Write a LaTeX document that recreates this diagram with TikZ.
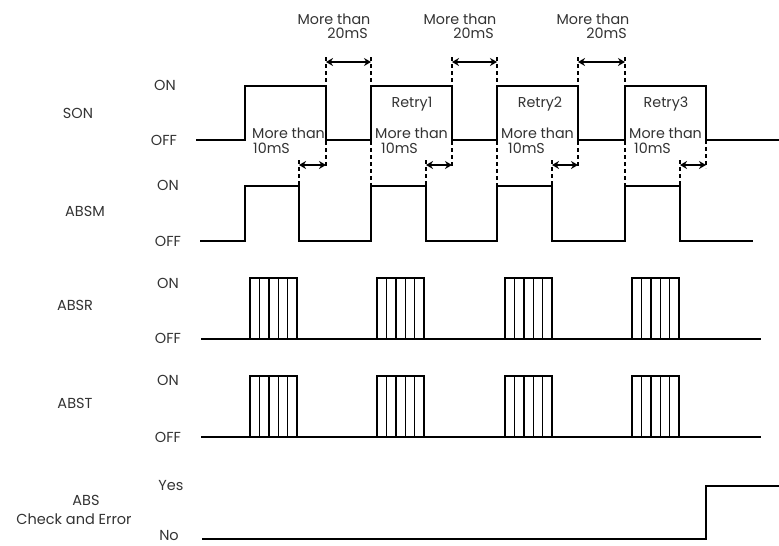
\documentclass[tikz,border=0pt]{standalone}
\usepackage{fontspec}
\setmainfont{Poppins}
\usetikzlibrary{arrows.meta}
\begin{document}
\begin{tikzpicture}[x=1pt,y=-1pt,
  sig/.style={line width=1.6pt, line join=miter},
  pulse/.style={line width=1.4pt},
  guide/.style={line width=1.5pt, dash pattern=on 4pt off 3pt},
  dim/.style={line width=1.5pt, {Stealth[length=7pt,width=8pt]}-{Stealth[length=7pt,width=8pt]}},
  lbl/.style={inner sep=0pt, font=\fontsize{14.5}{16}\selectfont, text=black!80},
  txt/.style={inner sep=0pt, font=\fontsize{14.3}{16}\selectfont, text=black!80}]
\useasboundingbox (0,0) rectangle (779,546);

% signal names
\node[lbl] (nSON)  at (78,113) {SON};
\node[lbl] (nABSM) at (85,211) {ABSM};
\node[lbl] (nABSR) at (75,305) {ABSR};
\node[lbl] (nABST) at (75,403) {ABST};
\node[lbl] (nABS1) at (86,500) {ABS};
\node[lbl] (nABS2) at (74,519) {Check and Error};

% level labels
\node[lbl] (l1) at (165,85)  {ON};
\node[lbl] (l2) at (164,140) {OFF};
\node[lbl] (l3) at (168,185) {ON};
\node[lbl] (l4) at (168,241) {OFF};
\node[lbl] (l5) at (168,283) {ON};
\node[lbl] (l6) at (168,338) {OFF};
\node[lbl] (l7) at (168,380) {ON};
\node[lbl] (l8) at (168,437) {OFF};
\node[lbl] (l9) at (171,486) {Yes};
\node[lbl] (l10) at (169,535) {No};

% SON
\draw[sig] (196,140) -- (245,140) -- (245,86) -- (326,86) -- (326,140) -- (371,140)
  -- (371,86) -- (452,86) -- (452,140) -- (497,140) -- (497,86) -- (578,86)
  -- (578,140) -- (625,140) -- (625,86) -- (706,86) -- (706,140) -- (779,140);

% ABSM
\draw[sig] (200,241) -- (245,241) -- (245,186) -- (299,186) -- (299,241) -- (371,241)
  -- (371,186) -- (426,186) -- (426,241) -- (497,241) -- (497,186) -- (552,186)
  -- (552,241) -- (625,241) -- (625,186) -- (680,186) -- (680,241) -- (753,241);

% guides and dimension arrows
\foreach \F/\R/\A in {326/371/299, 452/497/426, 578/625/552}{
  \draw[guide] (\F,57) -- (\F,168);
  \draw[guide] (\R,57) -- (\R,186);
  \draw[guide] (\A,160) -- (\A,186);
  \coordinate (a\F) at (\F,62);
  \coordinate (b\R) at (\R,62);
  \draw[dim] (a\F) -- (b\R);
  \coordinate (c\A) at (\A,165);
  \coordinate (d\F) at (\F,165);
  \draw[dim] (c\A) -- (d\F);
}
\draw[guide] (706,140) -- (706,168);
\draw[guide] (680,160) -- (680,186);
\coordinate (c680) at (680,165);
\coordinate (d706) at (706,165);
\draw[dim] (c680) -- (d706);

% 20mS labels
\foreach \X/\n in {334/1, 460/2, 593/3}{
  \node[txt] (mt\n) at (\X,19) {More than};
  \node[txt] (tw\n) at (\X+13.5,33) {20mS};
}
% 10mS labels
\foreach \X/\Y/\n in {252/253/1, 375/381/2, 501/508/3, 629/634/4}{
  \node[txt, anchor=west] (ms\n) at (\X,133) {More than};
  \node[txt, anchor=west] (te\n) at (\Y,148) {10mS};
}
% Retry labels
\node[txt] (r1) at (412,104) {Retry1};
\node[txt] (r2) at (540,104) {Retry2};
\node[txt] (r3) at (666,104) {Retry3};

% ABSR and ABST
\foreach \top/\bot in {278/339, 376/437}{
  \draw[sig] (201,\bot) -- (761,\bot);
  \foreach \x in {250,377,505,632}{
    \draw[pulse] (\x,\bot) -- (\x,\top) -- (\x+47,\top) -- (\x+47,\bot);
    \foreach \k in {1,...,4}{
      \draw[pulse] (\x+9.4*\k,\top) -- (\x+9.4*\k,\bot);
    }
  }
}

% ABS check and error
\draw[sig] (202,539) -- (706,539) -- (706,486) -- (779,486);
\end{tikzpicture}
\end{document}
